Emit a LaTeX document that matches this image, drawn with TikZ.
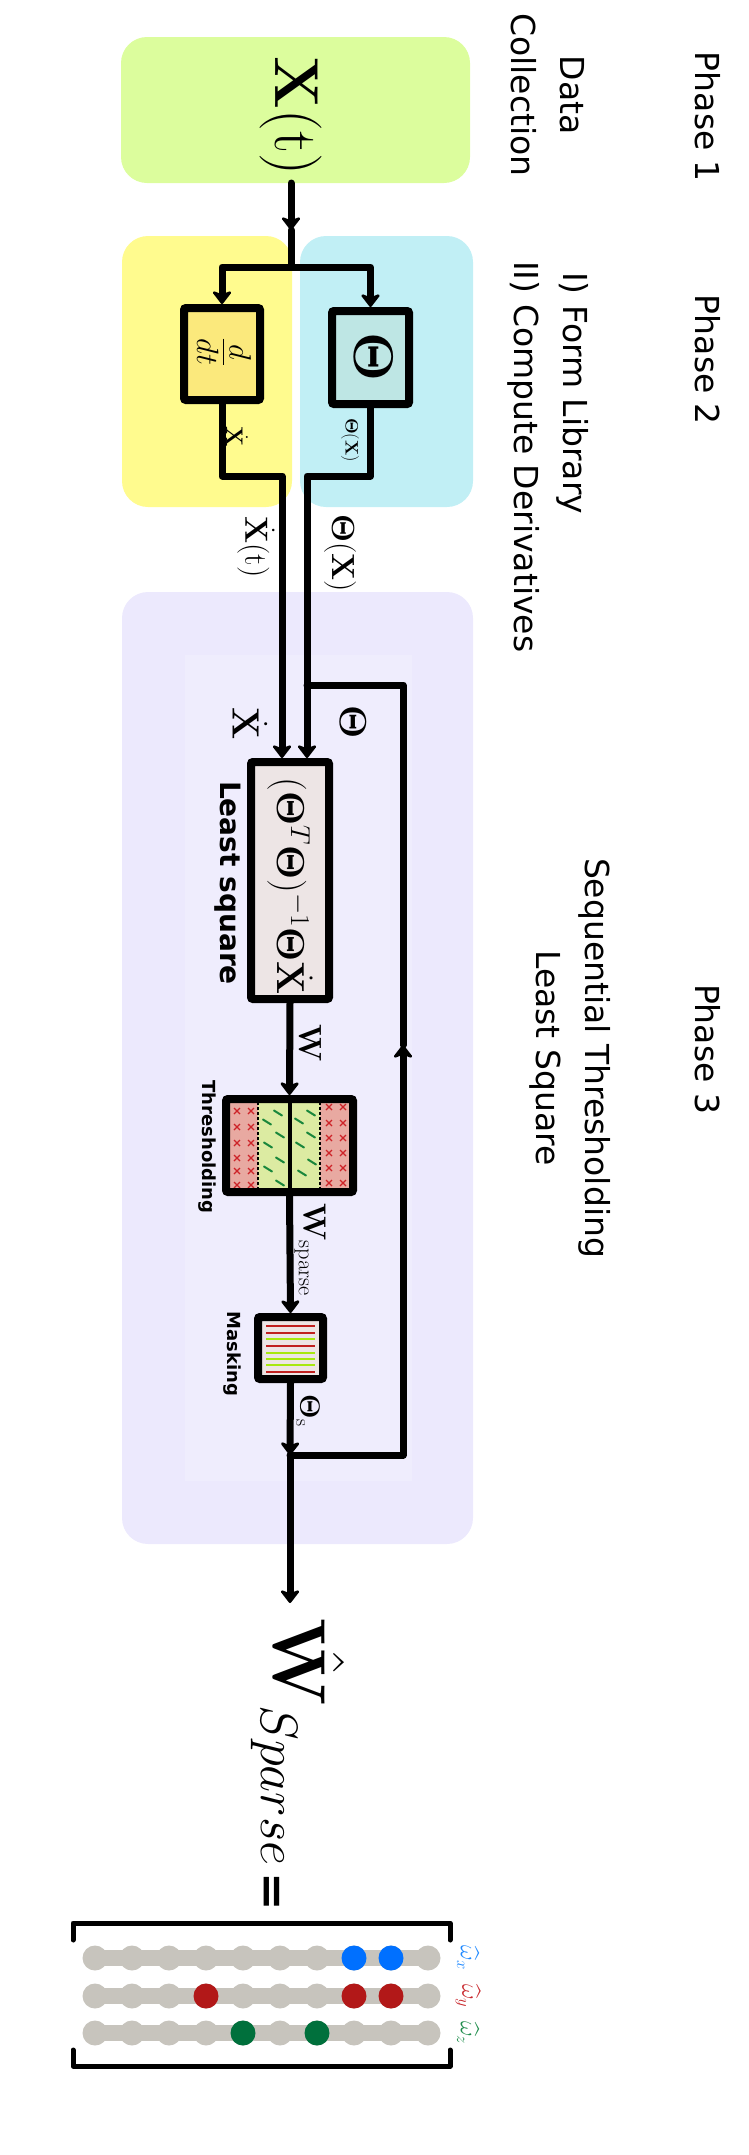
\RequirePackage{fix-cm}
\documentclass[tikz,border=0pt]{standalone}
\usepackage{amsmath}
\usepackage{bm}
\usepackage[no-math]{fontspec}
\newfontfamily\comic{DejaVu Sans}
\usetikzlibrary{arrows.meta}
\newcommand{\myfs}[2]{\fontsize{#1}{#2}\selectfont}
\definecolor{bggreen}{RGB}{220,253,157}
\definecolor{bgyellow}{RGB}{255,251,142}
\definecolor{bgcyan}{RGB}{193,239,245}
\definecolor{bgpurple}{RGB}{236,233,253}
\definecolor{bginner}{RGB}{239,237,253}
\definecolor{ddtfill}{RGB}{251,233,124}
\definecolor{thfill}{RGB}{190,230,228}
\definecolor{lsfill}{RGB}{237,229,229}
\definecolor{thred}{RGB}{232,169,161}
\definecolor{thgreen}{RGB}{220,235,162}
\definecolor{xred}{RGB}{205,35,40}
\definecolor{tgreen}{RGB}{25,135,60}
\definecolor{mred}{RGB}{192,32,31}
\definecolor{mgreen}{RGB}{168,232,15}
\definecolor{bead}{RGB}{199,196,189}
\definecolor{wblue}{RGB}{0,112,255}
\definecolor{wred}{RGB}{178,24,24}
\definecolor{wgreen}{RGB}{0,112,60}
\definecolor{lblue}{RGB}{30,136,255}
\definecolor{lred}{RGB}{200,40,45}
\definecolor{lgreen}{RGB}{30,140,75}
\tikzset{
  bg/.style={rounded corners=26pt},
  wire/.style={line width=7pt, line join=round, line cap=round},
  arr/.style={wire, -{Stealth[length=15pt,width=23pt,inset=4.5pt,round]}},
  blk/.style={draw, line width=8pt, rounded corners=2pt, inner sep=0pt},
  rlab/.style={rotate=-90, inner sep=0pt},
  phase/.style={rlab, font=\comic\myfs{33}{49}, align=center},
  bsans/.style={rlab, font=\comic\bfseries\myfs{#1}{#1}},
}
\begin{document}
\begin{tikzpicture}[x=1pt,y=-1pt]
\useasboundingbox (0,0) rectangle (749,2155);
% backgrounds
\fill[bggreen, bg] (121,37) rectangle (470,183);
\fill[bgyellow, bg] (122,236) rectangle (292,507);
\fill[bgcyan, bg] (300,236) rectangle (473,507);
\fill[bgpurple, bg] (122,592) rectangle (473,1544);
\fill[bginner] (185,655) rectangle (412,1481);

% phase texts
\node[phase] (p1) at (708,117) {Phase 1};
\node[phase] (p1b) at (548,95) {Data\\Collection};
\node[phase] (p2) at (708,360) {Phase 2};
\node[phase, anchor=west] (p2a) at (573,272) {I) Form Library};
\node[phase, anchor=west] (p2b) at (524,261) {II) Compute Derivatives};
\node[phase] (p3) at (708,1049) {Phase 3};
\node[phase] (p3b) at (570,1058) {Sequential Thresholding\\Least Square};

% data
\node[rlab, font=\myfs{62}{64}] (xt) at (291,116) {$\mathbf{X}(\mathrm{t})$};

% phase 2 boxes
\node[blk, fill=ddtfill, minimum width=76pt, minimum height=92pt] (ddt) at (222,354) {};
\node[rlab, font=\myfs{44}{46}] (ddtt) at (224,352) {$\frac{d}{dt}$};
\node[blk, fill=thfill, minimum width=77pt, minimum height=93pt] (theta) at (370.5,357.5) {};
\node[rlab, font=\myfs{56}{60}] (thetat) at (374,357) {$\bm{\Theta}$};

% least square box
\node[blk, fill=lsfill, minimum width=78pt, minimum height=237pt] (ls) at (290,880.5) {};
\node[rlab, font=\myfs{39}{42}] (lst) at (290,886) {$(\bm{\Theta}^T\bm{\Theta})^{-1}\bm{\Theta}\dot{\mathbf{X}}$};
\node[bsans=28] (lsl) at (228,883) {Least square};

% thresholding box
\fill[thred] (229,1102) rectangle (258,1189);
\fill[thgreen] (258,1102) rectangle (320,1189);
\fill[thred] (320,1102) rectangle (350,1189);
\foreach \x in {237,251} \foreach \y in {1111,1127,1143,1158,1171,1185}
  {\draw[xred, line width=1.3pt] (\x-3,\y-3) -- (\x+3,\y+3) (\x-3,\y+3) -- (\x+3,\y-3);}
\foreach \x in {329,343} \foreach \y in {1107,1123,1138,1153,1168,1183}
  {\draw[xred, line width=1.3pt] (\x-3,\y-3) -- (\x+3,\y+3) (\x-3,\y+3) -- (\x+3,\y-3);}
\foreach \p in {(278,1113),(267,1122),(280,1135),(268,1145),(280,1160),(268,1169),(280,1183),
                (311,1113),(299,1121),(311,1135),(300,1145),(312,1162),(302,1173)}
  {\draw[tgreen, line width=2pt, line cap=round] \p ++(-4,-2.5) -- ++(8,5);}
\draw[dash pattern=on 3pt off 2pt, line width=1.2pt] (258,1102) -- (258,1189);
\draw[dash pattern=on 3pt off 2pt, line width=1.2pt] (320,1102) -- (320,1189);
\draw[line width=4pt] (290,1100) -- (290,1191);
\node[blk, minimum width=127pt, minimum height=93pt] (thr) at (289.5,1145.5) {};
\node[bsans=18] (thrl) at (207,1147) {Thresholding};

% masking box
\node[blk, fill=lsfill, minimum width=65pt, minimum height=62pt] (mask) at (290.5,1348) {};
\foreach \y/\c in {1326/mred,1333/mred,1339/mgreen,1346/mred,1353/mgreen,1359/mgreen,1365/mgreen,1372/mred}
  {\draw[\c, line width=2pt] (266,\y) -- (315,\y);}
\node[bsans=18] (maskl) at (232,1354) {Masking};

% coordinates
\coordinate (gbot) at (291,183);
\coordinate (amid) at (291,230);
\coordinate (split) at (291,267);
\coordinate (dj) at (282,476);
\coordinate (tj) at (307,476);
\coordinate (lt) at (403,685);
\coordinate (tl) at (307,685);
\coordinate (lup) at (403,1045);
\coordinate (lb) at (403,1455);
\coordinate (jn) at (290,1455);
\coordinate (wend) at (290,1603);

% connectors
\draw[arr] (gbot) -- (amid);
\draw[wire] (amid) -- (split);
\draw[arr] (split) -| (ddt.north);
\draw[arr] (split) -| (theta.north);
\draw[arr] (ddt.south) |- (dj) -- (dj |- ls.north);
\draw[arr] (theta.south) |- (tj) -- (tj |- ls.north);
\draw[arr] (jn) -- (lb) -- (lup);
\draw[wire] (lup) -- (lt) -- (tl);
\draw[arr] (ls.south) -- (thr.north);
\draw[arr] (thr.south) -- (mask.north);
\draw[arr] (mask.south) -- (jn);
\draw[arr] (jn) -- (wend);

% connector labels
\node[rlab, font=\myfs{24}{26}] (l1) at (237,437) {$\dot{\mathbf{X}}$};
\node[rlab, font=\myfs{18}{20}] (l2) at (350,440) {$\bm{\Theta}(\mathbf{X})$};
\node[rlab, font=\myfs{32}{34}] (l3) at (256,547) {$\dot{\mathbf{X}}(\mathrm{t})$};
\node[rlab, font=\myfs{32}{34}] (l4) at (340,553) {$\bm{\Theta}(\mathbf{X})$};
\node[rlab, font=\myfs{38}{40}] (l5) at (250,724) {$\dot{\mathbf{X}}$};
\node[rlab, font=\myfs{38}{40}] (l6) at (353,722) {$\bm{\Theta}$};
\node[rlab, font=\myfs{32}{34}] (l7) at (310,1043) {$\mathbf{W}$};
\node[rlab, font=\myfs{32}{34}] (l8) at (310,1250) {$\mathbf{W}_{\mathrm{sparse}}$};
\node[rlab, font=\myfs{28}{30}] (l9) at (308,1411) {$\bm{\Theta}_{\mathrm{s}}$};

% result
\node[rlab, anchor=base west, font=\myfs{75}{80}] (what) at (273,1618) {$\hat{\mathbf{W}}_{Sparse}$};
\node[rlab, font=\comic\bfseries\myfs{46}{46}] (eq) at (269,1892) {=};

% bracket
\draw[line width=5pt, line cap=round, line join=round] (73,1940) -- (73,1923) -- (450,1923) -- (450,1940);
\draw[line width=5pt, line cap=round, line join=round] (73,2050) -- (73,2066) -- (450,2066) -- (450,2050);
\foreach \y in {1958,1996,2033} {
  \draw[bead, line width=16pt] (95,\y) -- (428,\y);
  \foreach \i in {0,...,9} {\fill[bead] (95+37*\i,\y) circle (12.5pt);}
}
\foreach \i in {7,8} {\fill[wblue] (95+37*\i,1958) circle (12.5pt);}
\foreach \i in {3,7,8} {\fill[wred] (95+37*\i,1996) circle (12.5pt);}
\foreach \i in {4,6} {\fill[wgreen] (95+37*\i,2033) circle (12.5pt);}
\node[rlab, font=\myfs{24}{26}, text=lblue] (wx) at (468,1958) {$\widehat{\omega}_x$};
\node[rlab, font=\myfs{24}{26}, text=lred] (wy) at (468,1996) {$\widehat{\omega}_y$};
\node[rlab, font=\myfs{24}{26}, text=lgreen] (wz) at (468,2033) {$\widehat{\omega}_z$};
\end{tikzpicture}
\end{document}
